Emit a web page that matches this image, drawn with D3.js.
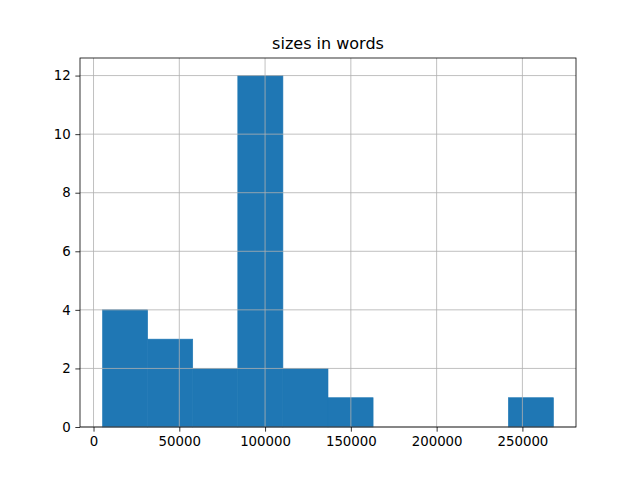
<!DOCTYPE html>
<meta charset="utf-8">
<script src="https://d3js.org/d3.v7.min.js"></script>
<style>
  body { margin: 0; background: #fff; }
  text { font-family: "DejaVu Sans", sans-serif; }
</style>
<svg id="chart" width="640" height="480"></svg>
<script>
  // histogram of sizes in words, 10 bins
  var binEdges = [5260, 31544, 57828, 84112, 110396, 136680, 162964, 189248, 215532, 241816, 268100];
  var counts = [4, 3, 2, 12, 2, 1, 0, 0, 0, 1];
  var xTicks = [0, 50000, 100000, 150000, 200000, 250000];
  var yTicks = [0, 2, 4, 6, 8, 10, 12];

  var svg = d3.select("#chart");
  // plot area (window.top is read-only, so no "top" here)
  var plotL = 80, plotR = 576, plotT = 58, plotB = 427;

  var span = binEdges[binEdges.length - 1] - binEdges[0];
  var x = d3.scaleLinear()
    .domain([binEdges[0] - span * 0.05, binEdges[binEdges.length - 1] + span * 0.05])
    .range([plotL, plotR]);
  var y = d3.scaleLinear()
    .domain([0, d3.max(counts) * 1.05])
    .range([plotB, plotT]);

  // bars
  svg.append("g")
    .selectAll("rect")
    .data(counts)
    .enter()
    .append("rect")
    .attr("x", function (d, i) { return x(binEdges[i]); })
    .attr("width", function (d, i) { return x(binEdges[i + 1]) - x(binEdges[i]); })
    .attr("y", function (d) { return y(d); })
    .attr("height", function (d) { return y(0) - y(d); })
    .attr("fill", "#1f77b4")
    .attr("stroke", function (d) { return d > 0 ? "#1f77b4" : "none"; })
    .attr("stroke-width", 0.6);

  // grid
  var grid = svg.append("g")
    .attr("stroke", "#b0b0b0")
    .attr("stroke-width", 0.8);
  grid.selectAll(".gx")
    .data(xTicks)
    .enter()
    .append("line")
    .attr("x1", function (d) { return x(d); })
    .attr("x2", function (d) { return x(d); })
    .attr("y1", plotT).attr("y2", plotB);
  grid.selectAll(".gy")
    .data(yTicks)
    .enter()
    .append("line")
    .attr("y1", function (d) { return y(d); })
    .attr("y2", function (d) { return y(d); })
    .attr("x1", plotL).attr("x2", plotR);

  // axes
  var xAxis = d3.axisBottom(x)
    .tickValues(xTicks)
    .tickFormat(d3.format("d"))
    .tickSizeInner(4.67)
    .tickSizeOuter(0)
    .tickPadding(4.67);
  var yAxis = d3.axisLeft(y)
    .tickValues(yTicks)
    .tickFormat(d3.format("d"))
    .tickSizeInner(4.67)
    .tickSizeOuter(0)
    .tickPadding(4.67);

  var gx = svg.append("g")
    .attr("transform", "translate(0," + plotB + ")")
    .call(xAxis);
  var gy = svg.append("g")
    .attr("transform", "translate(" + plotL + ",0)")
    .call(yAxis);
  [gx, gy].forEach(function (g) {
    g.select(".domain").remove();
    g.selectAll("line").attr("stroke", "#000").attr("stroke-width", 0.8);
    g.selectAll("text")
      .style("font-size", "13.33px")
      .style("font-family", "DejaVu Sans")
      .attr("fill", "#000");
  });

  // frame
  svg.append("rect")
    .attr("x", plotL).attr("y", plotT)
    .attr("width", plotR - plotL).attr("height", plotB - plotT)
    .attr("fill", "none")
    .attr("stroke", "#000")
    .attr("stroke-width", 0.8);

  svg.append("text")
    .attr("x", (plotL + plotR) / 2)
    .attr("y", plotT - 9)
    .attr("text-anchor", "middle")
    .style("font-size", "16px")
    .text("sizes in words");
</script>
